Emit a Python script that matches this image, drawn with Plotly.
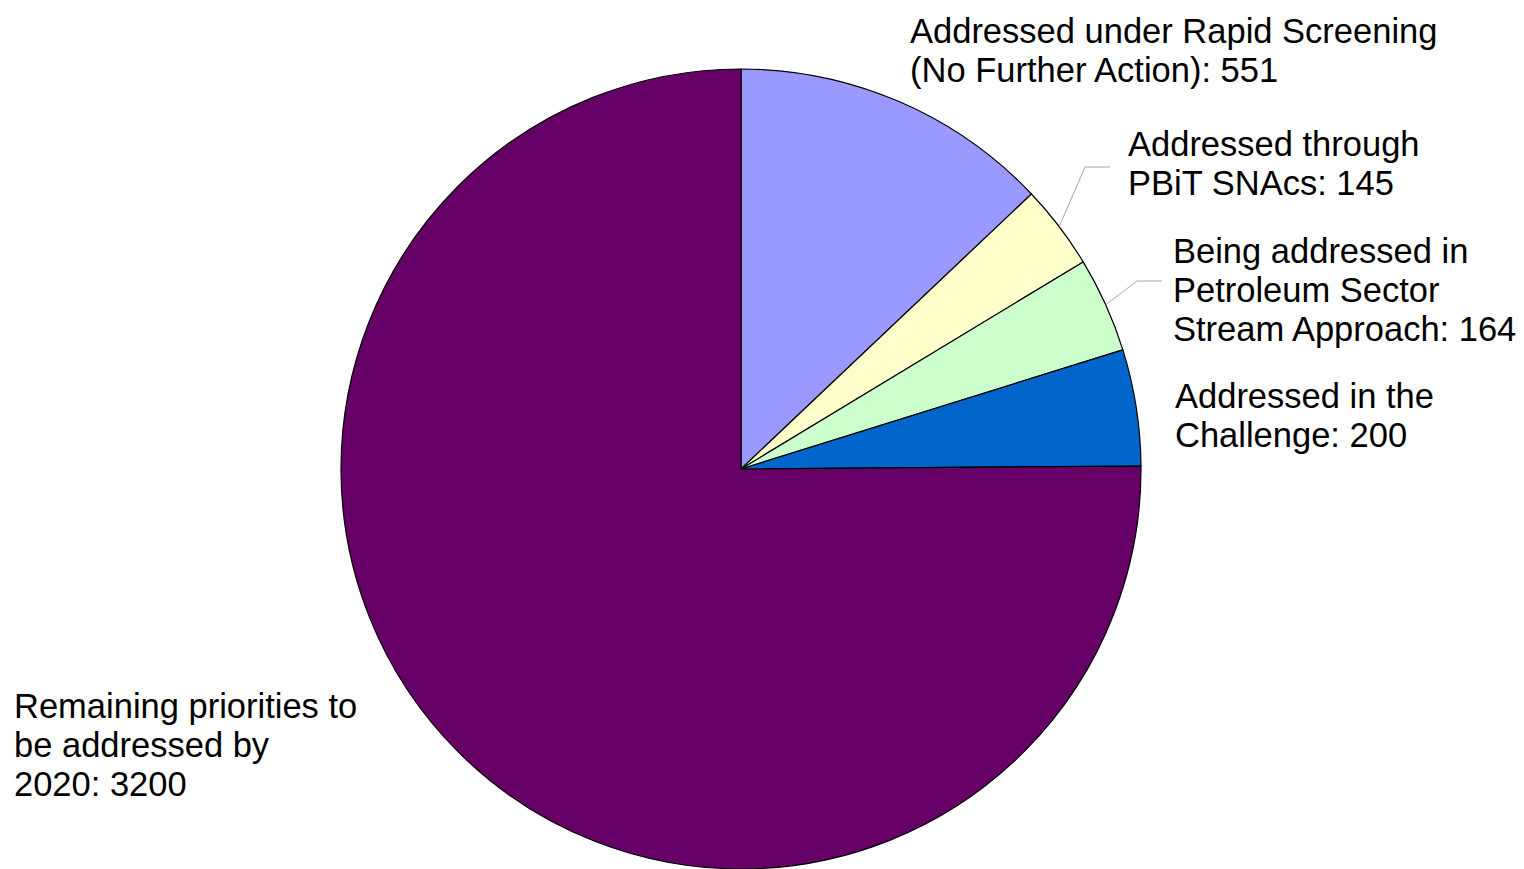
import math
import plotly.graph_objects as go

# ---- data ----
labels = [
    "Addressed under Rapid Screening (No Further Action)",
    "Addressed through PBiT SNAcs",
    "Being addressed in Petroleum Sector Stream Approach",
    "Addressed in the Challenge",
    "Remaining priorities to be addressed by 2020",
]
values = [551, 145, 164, 200, 3200]
label_lines = [
    ["Addressed under Rapid Screening", "(No Further Action): 551"],
    ["Addressed through", "PBiT SNAcs: 145"],
    ["Being addressed in", "Petroleum Sector", "Stream Approach: 164"],
    ["Addressed in the", "Challenge: 200"],
    ["Remaining priorities to", "be addressed by", "2020: 3200"],
]
colors = ["#9999FF", "#FFFFCC", "#CCFFCC", "#0066CC", "#660066"]

# ---- layout geometry (pixels, page coordinates) ----
W, H = 1524, 869
OFF = 8  # page body margin
CX, CY, R = 741, 469, 400
FONT = "Liberation Sans, Arial, sans-serif"
FS = 34.5
LINE_H = 39

def px(x):
    return (x - OFF) / W

def py(y):
    return 1 - (y - OFF) / H

# label anchor (left x, first-line center y) for each slice
label_pos = [(908, 31), (1126, 144), (1171, 251), (1173, 396), (12, 706)]
# leader elbows (only for small slices): (elbow x, elbow y, end x)
leaders = {1: (1085, 167, 1110), 2: (1137, 281, 1162)}

fig = go.Figure(go.Pie(
    labels=labels, values=values, sort=False, direction="clockwise", rotation=0,
    marker=dict(colors=colors, line=dict(color="black", width=1.2)),
    textinfo="none", hoverinfo="label+value", showlegend=False,
    domain=dict(x=[px(CX - R), px(CX + R)], y=[py(CY + R), py(CY - R)]),
))

annotations = []
for i, lines in enumerate(label_lines):
    lx, ly = label_pos[i]
    for j, t in enumerate(lines):
        annotations.append(dict(
            x=px(lx), y=py(ly + j * LINE_H), xref="paper", yref="paper",
            text=t, showarrow=False, xanchor="left", yanchor="middle",
            font=dict(family=FONT, size=FS, color="black"),
        ))

total = sum(values)
shapes = []
cum = 0
for i, v in enumerate(values):
    mid = (cum + v / 2) / total * 2 * math.pi
    cum += v
    if i in leaders:
        ex, ey, endx = leaders[i]
        sx = CX + R * math.sin(mid)
        sy = CY - R * math.cos(mid)
        shapes.append(dict(type="line", xref="paper", yref="paper",
                           x0=px(sx), y0=py(sy), x1=px(ex), y1=py(ey),
                           line=dict(color="#A6A6A6", width=1)))
        shapes.append(dict(type="line", xref="paper", yref="paper",
                           x0=px(ex), y0=py(ey), x1=px(endx), y1=py(ey),
                           line=dict(color="#A6A6A6", width=1)))

fig.update_layout(
    width=W, height=H, margin=dict(l=0, r=0, t=0, b=0),
    paper_bgcolor="white", plot_bgcolor="white",
    annotations=annotations, shapes=shapes,
)
fig.write_html("out.html")
